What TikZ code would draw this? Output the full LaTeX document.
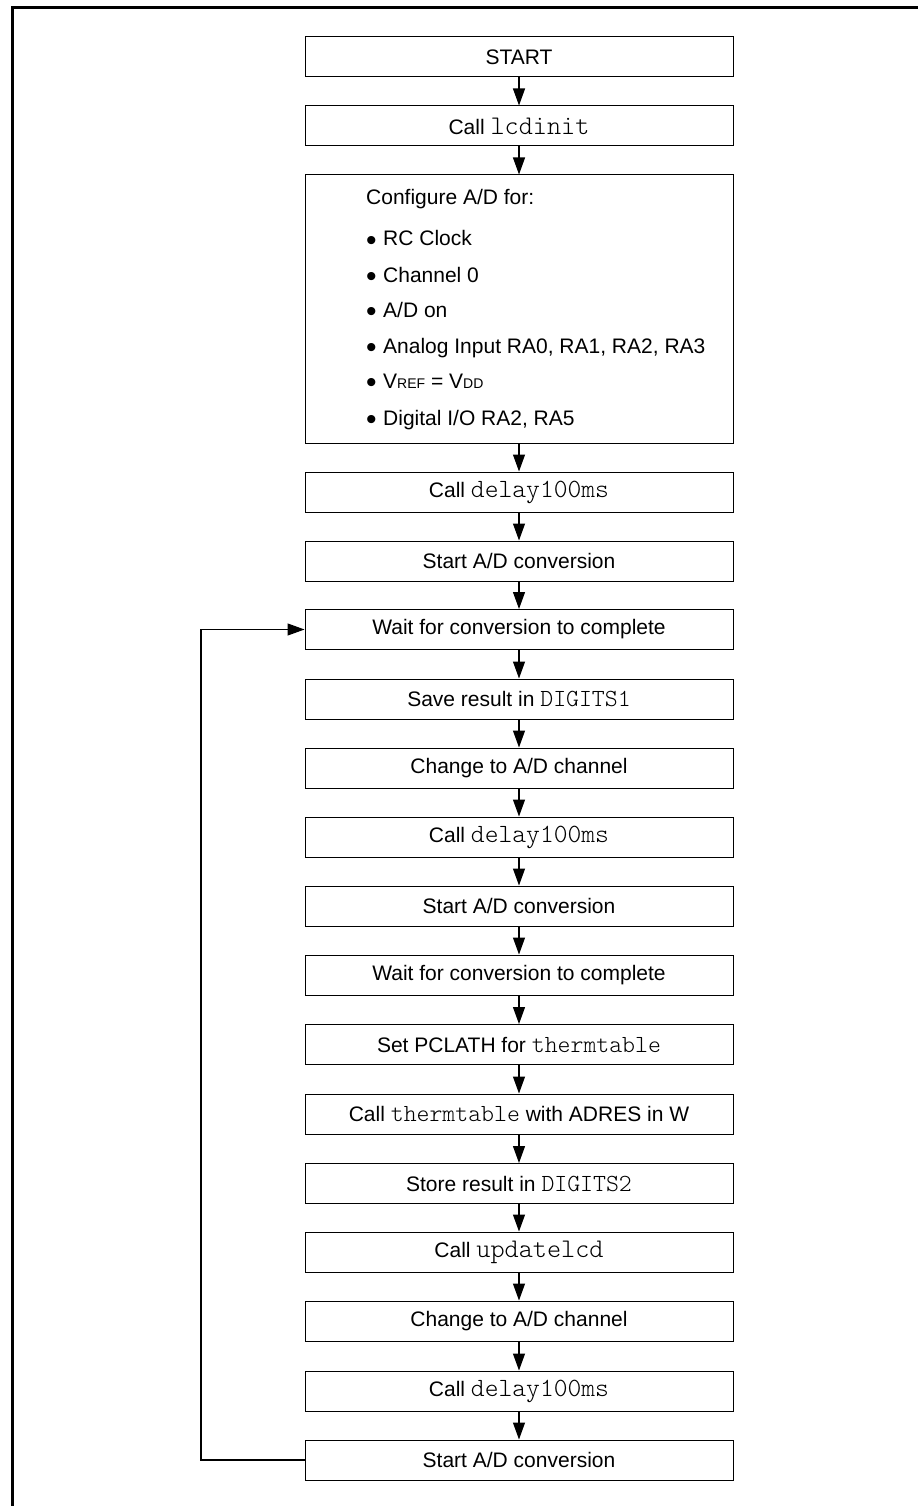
\documentclass[tikz,border=0pt]{standalone}
\usepackage{fontspec}
\setmainfont{Liberation Sans}
\setmonofont{Latin Modern Mono Light}
\usetikzlibrary{arrows.meta}
\newcommand\mytt[2][24.6]{{\fontsize{#1}{#1}\selectfont\ttfamily #2}}
\newcommand\mysmall[1]{{\fontsize{14}{14}\selectfont #1}}
\newcommand\mybul{\makebox[17pt][l]{\raisebox{-4.5pt}{\fontsize{30}{30}\selectfont\textbullet}}}
\begin{document}
\begin{tikzpicture}[x=1pt,y=-1pt,
  box/.style={draw, line width=1pt, minimum width=428pt, minimum height=40pt, inner sep=0pt, font=\fontsize{21}{24}\selectfont},
  arr/.style={line width=1.2pt, -{Triangle[length=17pt,width=12pt]}},
  cfg/.style={anchor=base west, inner sep=0pt, font=\fontsize{21}{24}\selectfont}]
\useasboundingbox (0,0) rectangle (918,1506);
\draw[line width=3pt, line join=miter] (12.5,1506) -- (12.5,7.5) -- (918,7.5);

\node[box] (s1) at (519,57) {START};
\node[box] (s2) at (519,126) {Call \mytt[26.9]{lcdinit}};
\node[box, minimum height=268pt] (s3) at (519,309) {};
\node[box] (s4) at (519,492) {Call \mytt[26.3]{delay100ms}};
\node[box] (s5) at (519,561) {Start A/D conversion};
\node[box] (s6) at (519,629.5) {Wait for conversion to complete};
\node[box] (s7) at (519,699) {Save result in \mytt{DIGITS1}};
\node[box] (s8) at (519,768) {Change to A/D channel};
\node[box] (s9) at (519,837) {Call \mytt[26.3]{delay100ms}};
\node[box] (s10) at (519,906) {Start A/D conversion};
\node[box] (s11) at (519,975) {Wait for conversion to complete};
\node[box] (s12) at (519,1044.5) {Set PCLATH for \mytt{thermtable}};
\node[box] (s13) at (519,1114) {Call \mytt{thermtable} with ADRES in W};
\node[box] (s14) at (519,1183.5) {Store result in \mytt{DIGITS2}};
\node[box] (s15) at (519,1252) {Call \mytt[26.9]{updatelcd}};
\node[box] (s16) at (519,1321) {Change to A/D channel};
\node[box] (s17) at (519,1391) {Call \mytt[26.3]{delay100ms}};
\node[box] (s18) at (519,1460) {Start A/D conversion};

\node[cfg] (c0) at (366,205) {Configure A/D for:};
\node[cfg] (c1) at (366,246) {\mybul RC Clock};
\node[cfg] (c2) at (366,282) {\mybul Channel 0};
\node[cfg] (c3) at (366,317) {\mybul A/D on};
\node[cfg] (c4) at (366,353) {\mybul Analog Input RA0, RA1, RA2, RA3};
\node[cfg] (c5) at (366,388) {\mybul V\mysmall{REF} = V\mysmall{DD}};
\node[cfg] (c6) at (366,425) {\mybul Digital I/O RA2, RA5};

\foreach \a/\b in {1/2,2/3,3/4,4/5,5/6,6/7,7/8,8/9,9/10,10/11,11/12,12/13,13/14,14/15,15/16,16/17,17/18}
  \draw[arr] (s\a.south) -- (s\b.north);

\coordinate (lp) at (201,1460);
\draw[arr] (s18.west) -- (lp) |- (s6.west);
\end{tikzpicture}
\end{document}
